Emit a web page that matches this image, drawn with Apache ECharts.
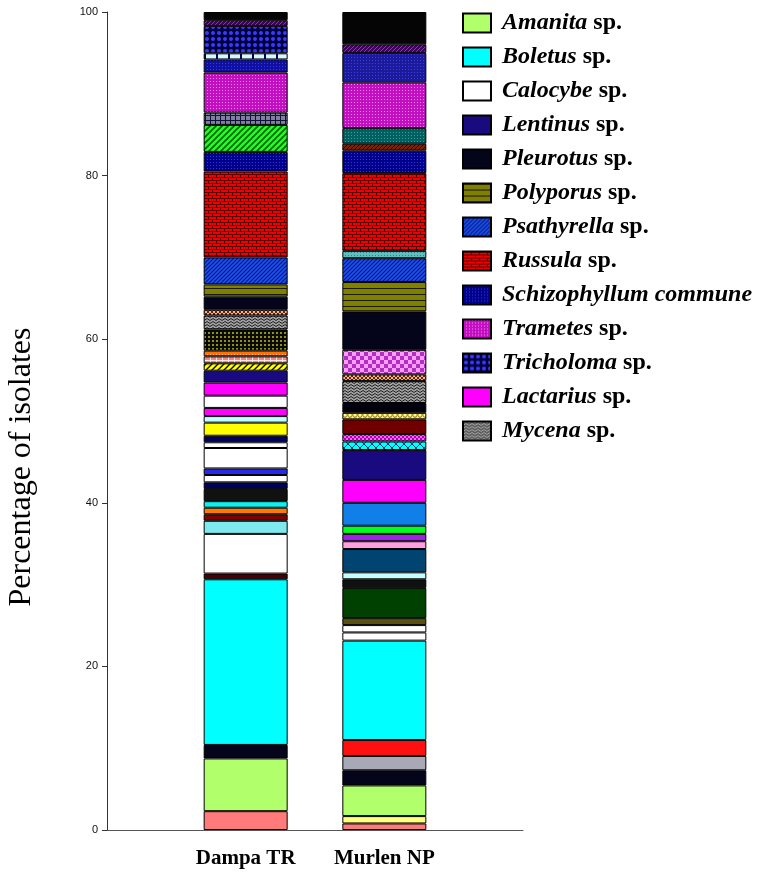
<!DOCTYPE html>
<html>
<head>
<meta charset="utf-8">
<script src="https://cdn.jsdelivr.net/npm/echarts@6/dist/echarts.min.js"></script>
<style>html,body{margin:0;padding:0;background:#fff}#c{width:766px;height:877px}</style>
</head>
<body>
<div id="c"></div>
<script>
// ---------------- DATA ----------------
const categories = ['', 'Dampa TR', 'Murlen NP', ''];
const legendNames = ['Amanita sp.', 'Boletus sp.', 'Calocybe sp.', 'Lentinus sp.', 'Pleurotus sp.',
  'Polyporus sp.', 'Psathyrella sp.', 'Russula sp.', 'Schizophyllum commune', 'Trametes sp.',
  'Tricholoma sp.', 'Lactarius sp.', 'Mycena sp.'];
const yTicks = [0, 20, 40, 60, 80, 100];

// Dampa TR: segments from bottom to top
const dampaTaxa = ['Other', 'Amanita sp.', 'Pleurotus sp.', 'Boletus sp.', 'Other', 'Calocybe sp.',
  'Other', 'Other', 'Other', 'Other', 'Other', 'Other', 'Other', 'Other', 'Other', 'Other', 'Other',
  'Other', 'Other', 'Lactarius sp.', 'Other', 'Lactarius sp.', 'Lentinus sp.', 'Other', 'Other', 'Other',
  'Other', 'Mycena sp.', 'Other', 'Pleurotus sp.', 'Polyporus sp.', 'Psathyrella sp.', 'Russula sp.',
  'Schizophyllum commune', 'Other', 'Other', 'Trametes sp.', 'Other', 'Other', 'Tricholoma sp.', 'Other', 'Other'];
const dampaPercent = [2.3, 6.45, 1.65, 20.25, 0.7, 4.85,
  1.6, 0.8, 0.8, 0.8, 1.5, 0.8, 0.9, 0.8, 2.5, 0.7, 0.8,
  1.6, 0.8, 1.0, 1.5, 1.6, 1.45, 0.9, 0.85, 0.7,
  2.6, 1.7, 0.7, 1.6, 1.5, 3.3, 10.5,
  2.4, 3.3, 1.5, 4.9, 1.6, 0.75, 3.35, 0.7, 1.0];

// Murlen NP: segments from bottom to top
const murlenTaxa = ['Other', 'Other', 'Amanita sp.', 'Pleurotus sp.', 'Other', 'Other', 'Boletus sp.',
  'Other', 'Calocybe sp.', 'Other', 'Other', 'Other', 'Other', 'Other', 'Other', 'Other', 'Other', 'Other',
  'Lactarius sp.', 'Lentinus sp.', 'Other', 'Other', 'Other', 'Other', 'Other', 'Mycena sp.', 'Other', 'Other',
  'Pleurotus sp.', 'Polyporus sp.', 'Psathyrella sp.', 'Other', 'Russula sp.', 'Schizophyllum commune',
  'Other', 'Other', 'Trametes sp.', 'Other', 'Other', 'Other'];
const murlenPercent = [0.8, 0.9, 3.75, 1.85, 1.75, 1.95, 12.15,
  1.0, 0.9, 0.85, 3.7, 1.05, 0.85, 2.85, 0.95, 0.9, 1.0, 2.8,
  2.8, 3.65, 1.05, 0.9, 1.8, 0.8, 1.2, 2.7, 0.8, 3.0,
  4.7, 3.6, 2.9, 0.9, 9.5, 2.75,
  0.85, 1.9, 5.6, 3.6, 1.05, 3.95];

// ---------------- STYLES ----------------
const dampaFill = ['salmon', 'amanita', 'pleurotus', 'boletus', 'darkmaroon', 'white',
  'lightcyan', 'maroon', 'orange', 'cyan', 'black', 'navy', 'white', 'blue', 'white', 'white', 'navy',
  'yellow', 'palecyan', 'lactarius', 'white', 'lactarius', 'lentinus', 'yellowhatch', 'salmoncheck', 'orangedots',
  'blackolive', 'mycena', 'peachdiamond', 'pleurotus', 'polyporus', 'psathyrella', 'russula',
  'schizo', 'greenhatch', 'graygrid', 'trametes', 'navyweave', 'cyandash', 'tricholoma', 'purplehatch', 'topblack'];
const murlenFill = ['salmon', 'lightyellow', 'amanita', 'pleurotus', 'gray', 'red', 'boletus',
  'white', 'white', 'olive', 'darkgreen', 'black', 'palecyan', 'steelblue', 'pink', 'purple', 'green', 'blue2',
  'lactarius', 'lentinus', 'cyanx', 'magcheck', 'maroon2', 'yellowcircles', 'black2', 'mycena', 'peachdiamond', 'pinkcheck',
  'pleurotus', 'polyporus', 'psathyrella', 'teal', 'russula', 'schizo',
  'brownhatch', 'darkteal', 'trametes', 'navyweave2', 'purplehatch', 'topblack'];

function tile(w, h, draw) {
  const c = document.createElement('canvas');
  c.width = w; c.height = h;
  const g = c.getContext('2d');
  draw(g, w, h);
  return { image: c, repeat: 'repeat' };
}
function hatch(bg, fg, s, lw) {
  return tile(s, s, (g) => {
    g.fillStyle = bg; g.fillRect(0, 0, s, s);
    g.strokeStyle = fg; g.lineWidth = lw || 1;
    g.beginPath();
    g.moveTo(-1, s + 1); g.lineTo(s + 1, -1);
    g.moveTo(-1, 1); g.lineTo(1, -1);
    g.moveTo(s - 1, s + 1); g.lineTo(s + 1, s - 1);
    g.stroke();
  });
}
function hstripe(bg, fg, p, lw) {
  return tile(4, p, (g) => { g.fillStyle = bg; g.fillRect(0, 0, 4, p); g.fillStyle = fg; g.fillRect(0, 0, 4, lw); });
}
function dots(bg, fg, s, d) {
  return tile(s, s, (g) => { g.fillStyle = bg; g.fillRect(0, 0, s, s); g.fillStyle = fg; g.fillRect(0, 0, d, d); });
}
function grid(bg, fg, w, h) {
  return tile(w, h, (g) => { g.fillStyle = bg; g.fillRect(0, 0, w, h); g.fillStyle = fg; g.fillRect(0, 0, w, 1); g.fillRect(0, 0, 1, h); });
}
function vlines(bg, fg, w, lw) {
  return tile(w, 4, (g) => { g.fillStyle = bg; g.fillRect(0, 0, w, 4); g.fillStyle = fg; g.fillRect(0, 0, lw, 4); });
}
function check(bg, fg, s) {
  return tile(2 * s, 2 * s, (g) => { g.fillStyle = bg; g.fillRect(0, 0, 2 * s, 2 * s); g.fillStyle = fg; g.fillRect(0, 0, s, s); g.fillRect(s, s, s, s); });
}
function brick(bg, fg) {
  return tile(8, 6, (g) => {
    g.fillStyle = bg; g.fillRect(0, 0, 8, 6);
    g.fillStyle = fg;
    g.fillRect(0, 0, 8, 1); g.fillRect(0, 3, 8, 1);
    g.fillRect(0, 0, 1, 3); g.fillRect(4, 3, 1, 3);
  });
}
function wave(bg, fg) {
  return tile(6, 3, (g) => {
    g.fillStyle = bg; g.fillRect(0, 0, 6, 3);
    g.strokeStyle = fg; g.lineWidth = 1;
    g.beginPath(); g.moveTo(0, 2.5); g.lineTo(3, 0.5); g.lineTo(6, 2.5); g.stroke();
  });
}
function cross(bg, fg, s) {
  return tile(s, s, (g) => {
    g.fillStyle = bg; g.fillRect(0, 0, s, s);
    g.strokeStyle = fg; g.lineWidth = 1;
    g.beginPath(); g.moveTo(0, 0); g.lineTo(s, s); g.moveTo(s, 0); g.lineTo(0, s); g.stroke();
  });
}
function circles(bg, fg, s, r) {
  return tile(s, s, (g) => {
    g.fillStyle = bg; g.fillRect(0, 0, s, s);
    g.fillStyle = fg; g.beginPath(); g.arc(s / 2, s / 2, r, 0, Math.PI * 2); g.fill();
  });
}
function ring(bg, fg, s, r) {
  return tile(s, s, (g) => {
    g.fillStyle = bg; g.fillRect(0, 0, s, s);
    g.strokeStyle = fg; g.lineWidth = 1; g.beginPath(); g.arc(s / 2, s / 2, r, 0, Math.PI * 2); g.stroke();
  });
}

const fills = {
  salmon: '#ff7a7a', amanita: '#b2ff6c', pleurotus: '#04041a', boletus: '#00ffff', darkmaroon: '#4a0000',
  white: '#ffffff', lightcyan: '#7eeaf0', maroon: '#800000', orange: '#ff7a00', cyan: '#10f0f0',
  black: '#111111', navy: '#00005e', blue: '#2828f0', yellow: '#ffff00', palecyan: '#c4ffff',
  lactarius: '#ff00ff', lentinus: '#1a0a80',
  yellowhatch: hatch('#ffff00', '#000000', 6, 1.3), salmoncheck: grid('#ff8080', '#ffe8e8', 6, 6),
  orangedots: dots('#ff7000', '#ffc080', 3, 1), blackolive: dots('#0a0a00', '#909020', 4, 2),
  mycena: wave('#a0a0a0', '#202020'), peachdiamond: cross('#ffb08a', '#5a2a10', 4),
  polyporus: hstripe('#808000', '#1a1a00', 6, 1), psathyrella: hatch('#1f50f0', '#001a80', 4, 1.2),
  russula: brick('#f00000', '#5a0000'), schizo: dots('#00008a', '#2a3ae0', 3, 1),
  greenhatch: hatch('#20ff20', '#006000', 6, 1.6), graygrid: grid('#80809c', '#10103a', 5, 5),
  trametes: dots('#c010c0', '#ff80ff', 3, 1), navyweave: dots('#1010a0', '#3a3af0', 3, 1),
  cyandash: vlines('#d6f8ff', '#000060', 12, 2), tricholoma: circles('#00003a', '#3a3aff', 6, 2),
  purplehatch: hatch('#400060', '#9a30b0', 4, 1), topblack: '#050505',
  lightyellow: '#ffff80', gray: '#a8a8b6', red: '#ff1010', olive: '#5a5010', darkgreen: '#004000',
  steelblue: '#004472', pink: '#ffa0e0', purple: '#a020e8', green: '#00ff20', blue2: '#1080e8',
  cyanx: cross('#00ffff', '#004060', 8), magcheck: check('#b000b0', '#ff60ff', 2), maroon2: '#700000',
  yellowcircles: ring('#ffff90', '#806000', 5, 1.8), black2: '#00000f', pinkcheck: check('#b030c0', '#ff9cff', 4),
  teal: dots('#60c0c0', '#308080', 3, 1), brownhatch: hatch('#802000', '#200000', 4, 1),
  darkteal: dots('#006060', '#30a0a0', 3, 1), navyweave2: dots('#1a1a9a', '#4040e0', 3, 1)
};

// ---------------- CHART ----------------
const series = [];
function addSite(taxa, values, fillKeys, catIndex) {
  taxa.forEach((name, i) => {
    const data = categories.map((c, k) => (k === catIndex ? values[i] : '-'));
    series.push({
      type: 'bar', stack: 'total', name: name, data: data, barWidth: 84,
      itemStyle: { color: fills[fillKeys[i]], borderColor: '#000', borderWidth: 1 },
      emphasis: { disabled: true }, silent: true
    });
  });
}
addSite(dampaTaxa, dampaPercent, dampaFill, 1);
addSite(murlenTaxa, murlenPercent, murlenFill, 2);

const chart = echarts.init(document.getElementById('c'), null, { renderer: 'canvas' });
chart.setOption({
  animation: false,
  backgroundColor: '#fff',
  grid: { left: 107, right: 243, top: 12, bottom: 47, containLabel: false, outerBoundsMode: 'none' },
  xAxis: {
    type: 'category', data: categories, boundaryGap: false,
    axisLine: { lineStyle: { color: '#555', width: 1 } },
    axisTick: { show: false },
    axisLabel: { interval: 0, margin: 18, color: '#000', fontFamily: 'Liberation Serif', fontWeight: 'bold', fontSize: 21 },
    splitLine: { show: false }
  },
  yAxis: {
    type: 'value', min: yTicks[0], max: yTicks[yTicks.length - 1], interval: 20,
    name: 'Percentage of isolates', nameLocation: 'middle', nameRotate: 90, nameGap: 69,
    nameTextStyle: { fontFamily: 'Liberation Serif', fontSize: 32, color: '#000', padding: [0, 92, 0, 0] },
    axisLine: { show: true, lineStyle: { color: '#333', width: 1 } },
    axisTick: { show: true, length: 5, lineStyle: { color: '#333' } },
    axisLabel: { margin: 9, color: '#111', fontFamily: 'Liberation Sans', fontSize: 11 },
    splitLine: { show: false }
  },
  legend: {
    data: legendNames, orient: 'vertical', left: 457, top: 6,
    itemWidth: 28, itemHeight: 19, itemGap: 10, icon: 'rect',
    textStyle: { fontFamily: 'Liberation Serif', fontWeight: 'bold', fontSize: 24, color: '#000', lineHeight: 24,
      rich: {
        i: { fontFamily: 'Liberation Serif', fontStyle: 'italic', fontWeight: 'bold', fontSize: 24, color: '#000', padding: [0, 0, 0, 6] },
        b: { fontFamily: 'Liberation Serif', fontWeight: 'bold', fontSize: 24, color: '#000' }
      } },
    formatter: (n) => n.endsWith(' sp.') ? '{i|' + n.slice(0, -4) + '} {b|sp.}' : '{i|' + n + '}',
    selectedMode: false
  },
  series: series
});
</script>
</body>
</html>
